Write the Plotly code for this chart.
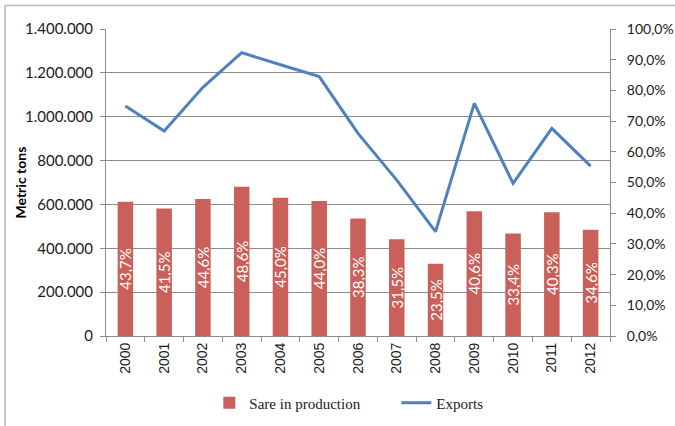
import plotly.graph_objects as go

years = ["2000", "2001", "2002", "2003", "2004", "2005", "2006",
         "2007", "2008", "2009", "2010", "2011", "2012"]
share_pct = [43.7, 41.5, 44.6, 48.6, 45.0, 44.0, 38.3,
             31.5, 23.5, 40.6, 33.4, 40.3, 34.6]
exports_t = [1049000, 935000, 1134000, 1292000, 1237000, 1183000, 924000,
             711000, 476000, 1061000, 696000, 947000, 775000]

BAR = "#C9605A"
LINE = "#4F81BD"
GRID = "#8C8C8C"
TXT = "#1A1A1A"

fig = go.Figure()
fig.add_trace(go.Bar(
    x=years, y=share_pct, name="Sare in production", yaxis="y2",
    marker=dict(color=BAR, line=dict(width=0)),
    texttemplate="%{y:.1f}%", textposition="inside", insidetextanchor="middle",
    textangle=-90, constraintext="none",
    textfont=dict(family="Lato", size=15, color="white"),
))
fig.add_trace(go.Scatter(
    x=years, y=exports_t, name="Exports", mode="lines", yaxis="y",
    line=dict(color=LINE, width=3),
))

fig.update_layout(
    width=675, height=426,
    margin=dict(l=106, r=65, t=29, b=90, autoexpand=False),
    paper_bgcolor="white", plot_bgcolor="white",
    separators=",.",
    bargap=0.6,
    showlegend=True,
    legend=dict(orientation="h", x=0.205, xanchor="left", y=-0.218, yanchor="middle",
                font=dict(family="Liberation Serif", size=15, color=TXT),
                itemwidth=30, entrywidth=142, entrywidthmode="pixels",
                traceorder="normal"),
    xaxis=dict(
        type="category", showgrid=False, showline=True, linecolor=GRID, linewidth=1,
        ticks="outside", tickson="boundaries", ticklen=5, tickcolor=GRID,
        tickangle=-90, tickfont=dict(family="Liberation Sans", size=14, color=TXT),
        range=[-0.5, 12.5], automargin=False,
    ),
    yaxis=dict(
        range=[0, 1400000], dtick=200000, tickformat=",d",
        showgrid=True, gridcolor=GRID, gridwidth=1,
        showline=True, linecolor=GRID, linewidth=1,
        ticks="outside", ticklen=5, tickcolor=GRID, ticklabelstandoff=4,
        tickfont=dict(family="Lato", size=15, color=TXT),
        zeroline=False, automargin=False,
    ),
    yaxis2=dict(
        overlaying="y", side="right", range=[0, 100], dtick=10,
        tickformat=".1f", ticksuffix="%",
        showgrid=False, showline=True, linecolor=GRID, linewidth=1,
        ticks="outside", ticklen=5, tickcolor=GRID, ticklabelstandoff=8,
        tickfont=dict(family="Lato", size=14, color=TXT),
        zeroline=False, automargin=False,
    ),
    annotations=[dict(text="<b>Metric tons</b>", xref="paper", yref="paper",
                      x=-0.1706, y=0.5, xanchor="center", yanchor="middle",
                      textangle=-90, showarrow=False,
                      font=dict(family="Lato", size=14, color="black"))],
    shapes=[dict(type="rect", xref="paper", yref="paper",
                 x0=-0.2005, x1=1.3, y0=-0.5, y1=1.0765,
                 line=dict(color="#B8B8B8", width=1.5), fillcolor="rgba(0,0,0,0)",
                 layer="below")],
)

fig.write_html("out.html")
